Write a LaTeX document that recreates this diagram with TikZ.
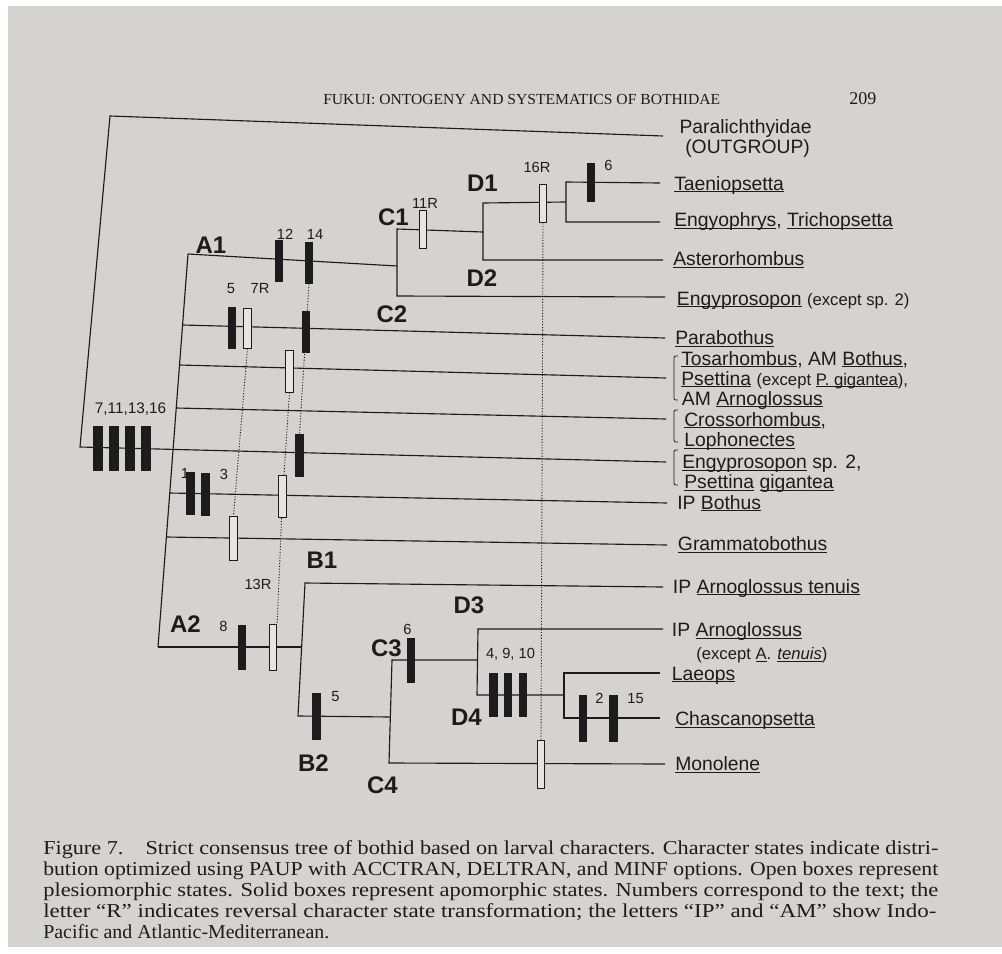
\documentclass[tikz,border=0pt]{standalone}
\usepackage{fontspec}
\setmainfont{Liberation Serif}
\newfontfamily\arial{Liberation Sans}
\usepackage{graphicx}
\definecolor{page}{RGB}{213,211,208}
\definecolor{ink}{RGB}{28,28,28}
\newcommand{\ulg}[1]{\leavevmode\setbox0=\hbox{#1}\rlap{\rule[-1.8pt]{\wd0}{0.8pt}}\box0\relax}
\newcommand{\capl}[2]{\hbox{\resizebox{#1}{\height}{#2}}}
\tikzset{
  branch/.style={draw=ink, line width=0.85pt},
  sbar/.style={fill=ink, draw=none, inner sep=0pt, minimum width=6.4pt, minimum height=31.5pt},
  bigbar/.style={sbar, minimum width=7.5pt, minimum height=34pt},
  obar/.style={draw=ink, fill=white!40!page, line width=0.75pt, inner sep=0pt, minimum width=5.4pt, minimum height=30pt},
  dotln/.style={draw=ink, line width=0.7pt, dash pattern=on 0.8pt off 1.3pt},
  taxon/.style={anchor=base west, inner sep=0pt, text=ink, font=\arial\fontsize{14.5}{17}\selectfont},
  num/.style={anchor=base, inner sep=0pt, text=ink, font=\arial\fontsize{11}{13}\selectfont},
  clade/.style={anchor=base, inner sep=0pt, text=ink, font=\arial\bfseries\fontsize{18}{21}\selectfont},
  brk/.style={draw=ink, line width=0.6pt},
  captext/.style={anchor=base west, inner sep=0pt, text=ink, font=\fontsize{14.8}{15.6}\selectfont},
}
\newcommand{\exc}{\fontsize{12.5}{15}\selectfont}
\begin{document}
\begin{tikzpicture}[x=0.75pt,y=-0.75pt]
\useasboundingbox (0,0) rectangle (1002,953);
\fill[white] (0,0) rectangle (1002,953);
\fill[page] (8,6) rectangle (1002,947);

% ---------- header ----------
\node[anchor=base west, inner sep=0pt, text=ink] (hdr) at (323,104)
  {\resizebox{297.75pt}{\height}{\fontsize{11.5}{13}\selectfont FUKUI: ONTOGENY AND SYSTEMATICS OF BOTHIDAE}};
\node[anchor=base west, inner sep=0pt, text=ink] (pg) at (849,104) {\fontsize{13.5}{15}\selectfont 209};

% ---------- tree coordinates ----------
\coordinate (R0) at (110,116);
\coordinate (R1) at (80,447);
\coordinate (eOut) at (663,136);
\coordinate (A1) at (188,254);
\coordinate (A2) at (158,647);
\coordinate (Ap) at (182.6,325);  \coordinate (eP) at (665,338);
\coordinate (At) at (179.5,365);  \coordinate (eT) at (666,378);
\coordinate (Ac) at (176.2,408);  \coordinate (eC) at (666,419);
\coordinate (Ae) at (173.1,449.4);\coordinate (eE) at (666,462);
\coordinate (Ai) at (169.8,493);  \coordinate (eI) at (667,503);
\coordinate (Ag) at (166.4,537);  \coordinate (eG) at (667,545);
\coordinate (C1) at (397,229); \coordinate (C2) at (397,296); \coordinate (Cj) at (397,266);
\coordinate (D1) at (483,203); \coordinate (D2) at (483,260); \coordinate (Dj) at (483,232);
\coordinate (E1) at (566,182); \coordinate (E2) at (566,222); \coordinate (Ej) at (566,202);
\coordinate (eTae) at (660,183); \coordinate (eEng) at (660,222);
\coordinate (eAst) at (663,260); \coordinate (eEx) at (665,297);
\coordinate (B1) at (305,583); \coordinate (B2) at (298,716); \coordinate (Bj) at (301.6,647);
\coordinate (eB1) at (663,587);
\coordinate (K3) at (392,660); \coordinate (K4) at (389,763); \coordinate (Kj) at (390.3,717);
\coordinate (L3) at (478,629); \coordinate (L4) at (477,695); \coordinate (Lj) at (477.5,660);
\coordinate (eL3) at (663,629);
\coordinate (F1) at (564,673); \coordinate (F2) at (564,718); \coordinate (Fj) at (564,695);
\coordinate (eLae) at (660,673); \coordinate (eCha) at (660,718);
\coordinate (eMon) at (665,764);

% ---------- branches ----------
\draw[branch] (eOut) -- (R0) -- (R1) -- (Ae) -- (eE);
\draw[branch] (A1) -- (A2);
\draw[branch] (A1) -- (Cj);
\draw[branch] (Ap) -- (eP);
\draw[branch] (At) -- (eT);
\draw[branch] (Ac) -- (eC);
\draw[branch] (Ai) -- (eI);
\draw[branch] (Ag) -- (eG);
\draw[branch] (eAst) -- (D2) -- (D1) -- (Ej);
\draw[branch] (eEx) -- (C2) -- (C1) -- (Dj);
\draw[branch] (eTae) -- (E1) -- (E2) -- (eEng);
\draw[branch] (A2) -- (Bj);
\draw[branch] (eB1) -- (B1) -- (B2) -- (Kj);
\draw[branch] (eMon) -- (K4) -- (K3) -- (Lj);
\draw[branch] (eL3) -- (L3) -- (L4) -- (Fj);
\draw[branch] (eLae) -- (F1) -- (F2) -- (eCha);

% ---------- character boxes ----------
\node[sbar] (b12)  at (279,261) {};
\node[sbar] (b14a) at (309,263) {};
\node[sbar] (b5a)  at (232,328) {};
\node[sbar, minimum height=32.5pt] (b14c) at (299.5,455.5) {};
\node[sbar, minimum height=32.5pt] (b1) at (190.5,493.5) {};
\node[sbar, minimum height=32.5pt] (b3) at (205.5,494.5) {};
\node[sbar, minimum height=33.8pt] (b8) at (242,647.5) {};
\node[sbar, minimum height=35pt] (b5b) at (316.5,716.5) {};
\node[sbar, minimum height=33.8pt] (b6b) at (411,660.5) {};
\node[sbar, minimum height=33pt] (b4)  at (493.5,695) {};
\node[sbar, minimum height=33pt] (b9)  at (508,695) {};
\node[sbar, minimum height=33pt] (b10) at (523,695) {};
\node[sbar, minimum height=35pt] (b2)  at (583,718.5) {};
\node[sbar, minimum height=35pt] (b15) at (613.5,718.5) {};
\node[sbar, minimum height=29.5pt] (b6a) at (591,182.5) {};
\node[bigbar] (c7)  at (98,448.5) {};
\node[bigbar] (c11) at (114,448.5) {};
\node[bigbar] (c13) at (130,448.5) {};
\node[bigbar] (c16) at (146,448.5) {};

\node[obar] (o7a) at (247.5,328) {};
\node[obar, minimum height=28pt] (o11) at (423,229.5) {};
\node[obar, minimum height=29pt] (o16) at (543,203.5) {};
\node[obar, minimum height=31.5pt] (o13a) at (289.5,371) {};
\node[obar, minimum height=33pt] (o7b) at (233.5,538) {};
\node[obar, minimum height=33.8pt] (o13c) at (273,647.5) {};
\node[obar, minimum height=36pt] (omon) at (541,764) {};

% ---------- dotted links ----------
\coordinate (o13bc) at (282.5,496.5);
\draw[dotln] (b14a.south) -- (b14c.north);
\draw[dotln] (o7a.south) -- (o7b.north);
\draw[dotln] (o13a.south) -- (o13bc) -- (o13c.north east);
\draw[dotln] (o16.south) -- (omon.north);
% boxes crossed by dotted lines
\node[sbar] (b14b) at (306,332) {};
\node[obar, minimum height=32pt] (o13b) at (o13bc) {};

% ---------- character numbers ----------
\node[num] (n12) at (285,239) {12};
\node[num] (n14) at (315,239) {14};
\node[num] (n5a) at (231,293.5) {5};
\node[num] (n7R) at (260,293.5) {7R};
\node[num, font=\arial\fontsize{11.5}{13}\selectfont] (n7111316) at (130.5,413) {7,11,13,16};
\node[num] (n1) at (185,478) {1};
\node[num] (n3) at (224,479) {3};
\node[num] (n13R) at (258,589) {13R};
\node[num] (n8) at (223.5,631) {8};
\node[num] (n5b) at (335.5,701) {5};
\node[num] (n6b) at (407.5,634) {6};
\node[num] (n4910) at (510.5,658) {4, 9, 10};
\node[num] (n2) at (599.5,703) {2};
\node[num] (n15) at (635.5,703) {15};
\node[num] (n11R) at (425,208) {11R};
\node[num] (n16R) at (537,172) {16R};
\node[num] (n6a) at (608.5,170) {6};

% ---------- clade labels ----------
\node[clade] (lA1) at (211,253) {A1};
\node[clade] (lC1) at (393.5,225) {C1};
\node[clade] (lC2) at (392,322) {C2};
\node[clade] (lD1) at (482.5,191) {D1};
\node[clade] (lD2) at (482,286) {D2};
\node[clade] (lB1) at (322,568) {B1};
\node[clade] (lA2) at (185.5,632) {A2};
\node[clade] (lB2) at (313.5,771) {B2};
\node[clade] (lC3) at (386.5,656) {C3};
\node[clade] (lC4) at (382.5,793) {C4};
\node[clade] (lD3) at (469,613) {D3};
\node[clade] (lD4) at (466.5,725) {D4};

% ---------- taxa ----------
\node[taxon] (t1) at (679.3,133.3) {Paralichthyidae};
\node[taxon] (t1b) at (685,153.3) {(OUTGROUP)};
\node[taxon] (t2) at (674,190) {\ulg{Taeniopsetta}};
\node[taxon] (t3) at (674,226.7) {\ulg{Engyophrys}, \ulg{Trichopsetta}};
\node[taxon] (t4) at (673,265.7) {\ulg{Asterorhombus}};
\node[taxon] (t5) at (676.7,305) {\ulg{Engyprosopon} {\exc(except sp. 2)}};
\node[taxon] (t6) at (675,344.3) {\ulg{Parabothus}};
\node[taxon] (t7) at (681,365) {\ulg{Tosarhombus}, AM \ulg{Bothus},};
\node[taxon] (t7b) at (681,385) {\ulg{Psettina} {\exc(except \ulg{P. gigantea}),}};
\node[taxon] (t7c) at (681.7,405) {AM \ulg{Arnoglossus}};
\node[taxon] (t8) at (684,426) {\ulg{Crossorhombus},};
\node[taxon] (t8b) at (684,446.7) {\ulg{Lophonectes}};
\node[taxon] (t9) at (682,468.3) {\ulg{Engyprosopon} sp. 2,};
\node[taxon] (t9b) at (684,488.3) {\ulg{Psettina} \ulg{gigantea}};
\node[taxon] (t10) at (677,509) {IP \ulg{Bothus}};
\node[taxon] (t11) at (677.7,550.7) {\ulg{Grammatobothus}};
\node[taxon] (t12) at (672.7,593) {IP \ulg{Arnoglossus tenuis}};
\node[taxon] (t13) at (671.7,636.7) {IP \ulg{Arnoglossus}};
\node[taxon] (t13b) at (696,659.3) {\exc(except \ulg{A}. \ulg{\itshape tenuis})};
\node[taxon] (t14) at (671.7,680) {\ulg{Laeops}};
\node[taxon] (t15) at (675,725.7) {\ulg{Chascanopsetta}};
\node[taxon] (t16) at (675,770.7) {\ulg{Monolene}};

% brackets
\draw[brk] (678,356) .. controls (674,356) .. (674,360) -- (674,396) .. controls (674,400) .. (678,400);
\draw[brk] (678,410) .. controls (674,410) .. (674,414) -- (674,438) .. controls (674,442) .. (678,442);
\draw[brk] (678,450) .. controls (674,450) .. (674,454) -- (674,481) .. controls (674,485) .. (678,485);

% ---------- caption (one block, last baseline at anchor) ----------
\node[captext] (cap) at (43,938) {\vbox{\baselineskip=15.6pt\lineskiplimit=-30pt\lineskip=0pt
  \capl{671.25pt}{Figure 7.\quad Strict consensus tree of bothid based on larval characters. Character states indicate distri-}
  \capl{671.25pt}{bution optimized using PAUP with ACCTRAN, DELTRAN, and MINF options. Open boxes represent}
  \capl{671.25pt}{plesiomorphic states. Solid boxes represent apomorphic states. Numbers correspond to the text; the}
  \capl{669.75pt}{letter “R” indicates reversal character state transformation; the letters “IP” and “AM” show Indo-}
  \capl{214.5pt}{Pacific and Atlantic-Mediterranean.}}};
\end{tikzpicture}
\end{document}
